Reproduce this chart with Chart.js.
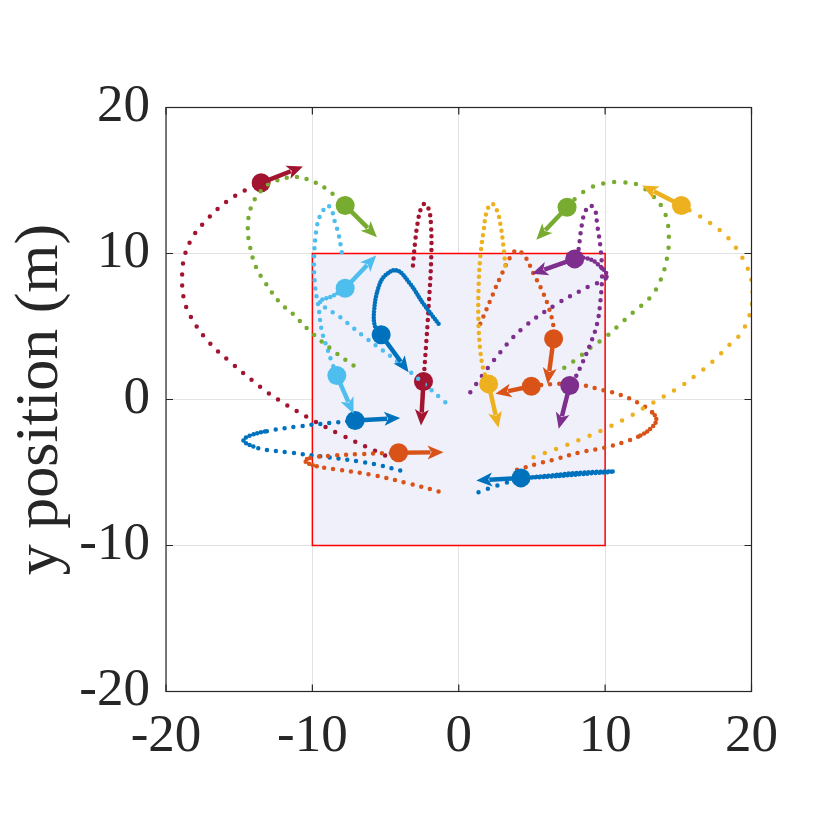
<!DOCTYPE html>
<html>
<head>
<meta charset="utf-8">
<script src="https://cdn.jsdelivr.net/npm/chart.js@4.4.1/dist/chart.umd.min.js"></script>
<style>
    html, body { margin: 0; padding: 0; background: #ffffff; }
</style>
</head>
<body>
<canvas id="chart" width="830" height="830"></canvas>
<script>
// Axis ticks and the square target region (x min, x max, y min, y max)
const xTicks = [-20, -10, 0, 10, 20];
const yTicks = [-20, -10, 0, 10, 20];
const region = [-10, 10, -10, 10];

// Agent trails: first point = start, last point = current position
const trailBlue1 = [[-1.38, 5.18], [-2.41, 6.55], [-3.32, 7.92], [-4.23, 8.84], [-5.03, 8.49], [-5.48, 7.69], [-5.78, 6.10], [-5.71, 4.95], [-5.30, 4.43]];
const trailBlue2 = [[-4.0, -4.86], [-5.37, -4.52], [-6.74, -4.25], [-9.01, -3.95], [-11.75, -3.61], [-13.11, -3.45], [-14.03, -3.22], [-14.71, -2.81], [-14.26, -2.47], [-13.11, -2.17], [-10.84, -1.83], [-8.22, -1.55], [-7.08, -1.44]];
const trailBlue3 = [[1.35, -6.35], [2.6, -5.9], [4.25, -5.45], [6.3, -5.2], [8.5, -5.0], [10.6, -4.93], [8.5, -5.1], [6.3, -5.28], [4.25, -5.37]];
const trailOrange1 = [[-1.38, -6.30], [-3.36, -5.77], [-5.71, -5.21], [-8.10, -4.82], [-9.70, -4.57], [-10.50, -4.22], [-10.15, -4.0], [-8.56, -3.84], [-6.74, -3.74], [-4.11, -3.65]];
const trailOrange2 = [[1.47, 5.18], [2.15, 6.78], [2.84, 8.38], [3.52, 9.75], [3.98, 10.21], [4.55, 9.75], [5.11, 8.61], [5.69, 7.47], [6.14, 6.32], [6.48, 4.95], [6.48, 4.16]];
const trailOrange3 = [[3.98, -4.82], [5.35, -4.41], [6.71, -4.06], [8.31, -3.61], [9.90, -3.31], [11.27, -2.92], [12.41, -2.47], [13.21, -1.89], [13.50, -1.39], [13.21, -0.87], [12.30, -0.25], [11.04, 0.32], [9.79, 0.66], [8.31, 1.0], [6.67, 1.07], [4.96, 0.91]];
const trailYellow1 = [[3.18, 9.18], [3.06, 10.43], [2.84, 12.03], [2.61, 12.95], [2.27, 13.40], [1.93, 12.95], [1.70, 11.58], [1.47, 9.75], [1.35, 7.47], [1.35, 5.18], [1.47, 3.36], [1.70, 1.99], [2.04, 1.07]];
const trailYellow2 = [[5.11, -3.95], [6.67, -3.38], [8.31, -2.74], [9.90, -2.05], [11.38, -1.32], [12.75, -0.52], [14.0, 0.21], [15.15, 0.89], [16.17, 1.64], [17.42, 2.67], [18.56, 3.81], [19.25, 4.50], [19.82, 5.64], [20.05, 6.78], [20.0, 8.15], [19.59, 9.29], [18.91, 10.43], [18.11, 11.35], [17.08, 12.15], [16.17, 12.72], [15.21, 13.29]];
const trailPurple1 = [[0.79, 0.5], [2.38, 2.67], [4.32, 4.84], [6.71, 6.55], [8.77, 7.69], [10.1, 8.4], [9.4, 9.35], [8.6, 9.7], [7.92, 9.63]];
const trailPurple2 = [[8.19, 10.3], [8.42, 12.03], [8.65, 12.9], [8.99, 13.29], [9.33, 12.9], [9.45, 12.03], [9.68, 10.43], [9.79, 8.61], [9.68, 6.78], [9.45, 5.18], [8.99, 3.81], [8.42, 2.45], [7.97, 1.53], [7.58, 0.96]];
const trailGreen1 = [[-7.19, 2.33], [-8.44, 3.24], [-10.09, 4.61], [-11.34, 5.87], [-12.25, 6.67], [-13.16, 7.92], [-13.85, 9.06], [-14.3, 10.66], [-14.41, 11.80], [-14.19, 13.17], [-13.5, 14.3], [-12.71, 14.89], [-11.34, 15.23], [-10.43, 15.11], [-9.06, 14.43], [-7.76, 13.29]];
const trailGreen2 = [[7.21, 2.17], [7.85, 2.62], [8.42, 3.06], [8.99, 3.54], [10.02, 4.27], [11.04, 5.18], [12.07, 6.10], [13.09, 7.01], [13.78, 8.15], [14.24, 9.75], [14.35, 10.89], [14.28, 12.03], [13.89, 13.17], [13.09, 14.09], [12.18, 14.73], [11.04, 14.88], [10.13, 14.84], [8.99, 14.5], [8.08, 13.86], [7.40, 13.17]];
const trailLightBlue1 = [[-0.92, -0.18], [-4.0, 2.45], [-6.28, 4.16], [-8.10, 5.64], [-9.47, 6.67], [-8.6, 7.1], [-7.76, 7.62]];
const trailLightBlue2 = [[-7.99, 10.09], [-8.22, 11.35], [-8.56, 12.49], [-8.67, 12.99], [-8.97, 13.29], [-9.24, 12.99], [-9.42, 12.72], [-9.70, 11.80], [-9.88, 9.75], [-9.81, 7.69], [-9.58, 6.32], [-9.36, 4.73], [-9.01, 3.58], [-8.67, 2.56], [-8.33, 1.64]];
const trailDarkRed1 = [[-5.03, -3.84], [-8.05, -2.42], [-10.34, -1.21], [-12.36, 0], [-13.52, 0.84], [-15.51, 2.49], [-17.11, 3.97], [-18.29, 5.64], [-18.75, 6.78], [-18.9, 8.15], [-18.75, 9.75], [-18.18, 11.12], [-17.26, 12.26], [-15.9, 13.52], [-14.53, 14.36], [-13.50, 14.84]];
const trailDarkRed2 = [[-3.13, 9.18], [-2.97, 10.89], [-2.82, 12.03], [-2.59, 13.06], [-2.34, 13.40], [-2.06, 13.06], [-1.90, 12.03], [-1.88, 9.75], [-2.06, 6.32], [-2.29, 2.90], [-2.41, 1.23]];

// Velocity arrow tips (data coordinates), one per agent
const tipBlue1 = [-3.43, 1.87];
const tipBlue2 = [-4.0, -1.26];
const tipBlue3 = [1.2, -5.55];
const tipOrange1 = [-1.04, -3.61];
const tipOrange2 = [6.07, 1.07];
const tipOrange3 = [2.50, 0.39];
const tipYellow1 = [2.72, -1.94];
const tipYellow2 = [12.53, 14.66];
const tipPurple1 = [5.0, 8.61];
const tipPurple2 = [6.83, -2.01];
const tipGreen1 = [-5.59, 11.12];
const tipGreen2 = [5.30, 10.94];
const tipLightBlue1 = [-5.64, 9.86];
const tipLightBlue2 = [-7.19, -0.98];
const tipDarkRed1 = [-10.65, 15.96];
const tipDarkRed2 = [-2.58, -1.78];

// MATLAB default colour order
const BLUE = '#0072BD';
const ORANGE = '#D95319';
const YELLOW = '#EDB120';
const PURPLE = '#7E2F8E';
const GREEN = '#77AC30';
const LIGHTBLUE = '#4DBEEE';
const DARKRED = '#A2142F';

const TEXT = '#262626';
const FONT = '"Liberation Serif", "Times New Roman", serif';

// gap = dot spacing in px; dense = [from, to] segment range drawn with tight dots
const agents = [
    { path: trailBlue1, tip: tipBlue1, color: BLUE, gap: 3 },
    { path: trailOrange1, tip: tipOrange1, color: ORANGE, gap: 9, dense: [4, 6] },
    { path: trailYellow1, tip: tipYellow1, color: YELLOW, gap: 7 },
    { path: trailPurple1, tip: tipPurple1, color: PURPLE, gap: 10, dense: [5, 8] },
    { path: trailGreen1, tip: tipGreen1, color: GREEN, gap: 10 },
    { path: trailLightBlue1, tip: tipLightBlue1, color: LIGHTBLUE, gap: 9, dense: [4, 6] },
    { path: trailDarkRed1, tip: tipDarkRed1, color: DARKRED, gap: 11 },
    { path: trailBlue2, tip: tipBlue2, color: BLUE, gap: 9, dense: [6, 9] },
    { path: trailOrange2, tip: tipOrange2, color: ORANGE, gap: 8 },
    { path: trailYellow2, tip: tipYellow2, color: YELLOW, gap: 12 },
    { path: trailPurple2, tip: tipPurple2, color: PURPLE, gap: 8 },
    { path: trailGreen2, tip: tipGreen2, color: GREEN, gap: 11 },
    { path: trailLightBlue2, tip: tipLightBlue2, color: LIGHTBLUE, gap: 8 },
    { path: trailDarkRed2, tip: tipDarkRed2, color: DARKRED, gap: 7 },
    { path: trailBlue3, tip: tipBlue3, color: BLUE, gap: 10, dense: [2, 8] },
    { path: trailOrange3, tip: tipOrange3, color: ORANGE, gap: 9, dense: [6, 9] }
];

function isDense(agent, i) {
    return agent.dense && i >= agent.dense[0] && i < agent.dense[1];
}

const datasets = agents.map(agent => {
    const last = agent.path.length - 1;
    return {
        data: agent.path.map(p => ({ x: p[0], y: p[1] })),
        showLine: true,
        tension: 0.4,
        borderColor: agent.color,
        borderWidth: 4.5,
        borderCapStyle: 'round',
        borderDash: [0, agent.gap],
        segment: {
            borderDash: ctx => isDense(agent, ctx.p0DataIndex) ? [0, 4] : [0, agent.gap]
        },
        pointRadius: ctx => ctx.dataIndex === last ? 9.5 : 0,
        pointBackgroundColor: agent.color,
        pointBorderWidth: 0,
        pointHoverRadius: 0
    };
});

// Light lavender square with red outline, placed through the scales
const regionPlugin = {
    id: 'region',
    beforeDatasetsDraw(chart) {
        const { ctx, scales: { x, y } } = chart;
        const left = x.getPixelForValue(region[0]);
        const right = x.getPixelForValue(region[1]);
        const bottom = y.getPixelForValue(region[2]);
        const top = y.getPixelForValue(region[3]);
        ctx.save();
        ctx.fillStyle = '#F0F0FA';
        ctx.fillRect(left, top, right - left, bottom - top);
        ctx.strokeStyle = '#FF0000';
        ctx.lineWidth = 1.5;
        ctx.strokeRect(left, top, right - left, bottom - top);
        ctx.restore();
    }
};

// Velocity arrows from each agent's current position
const arrowPlugin = {
    id: 'arrows',
    afterDatasetsDraw(chart) {
        const { ctx, scales: { x, y } } = chart;
        agents.forEach(agent => {
            const end = agent.path[agent.path.length - 1];
            const x0 = x.getPixelForValue(end[0]);
            const y0 = y.getPixelForValue(end[1]);
            const x1 = x.getPixelForValue(agent.tip[0]);
            const y1 = y.getPixelForValue(agent.tip[1]);
            const ang = Math.atan2(y1 - y0, x1 - x0);
            const head = 16, half = 7;
            const bx = x1 - head * Math.cos(ang);
            const by = y1 - head * Math.sin(ang);
            ctx.save();
            ctx.strokeStyle = agent.color;
            ctx.fillStyle = agent.color;
            ctx.lineWidth = 4.5;
            ctx.beginPath();
            ctx.moveTo(x0, y0);
            ctx.lineTo(bx + 3 * Math.cos(ang), by + 3 * Math.sin(ang));
            ctx.stroke();
            ctx.beginPath();
            ctx.moveTo(x1, y1);
            ctx.lineTo(bx - half * Math.sin(ang), by + half * Math.cos(ang));
            ctx.lineTo(bx + 4 * Math.cos(ang), by + 4 * Math.sin(ang));
            ctx.lineTo(bx + half * Math.sin(ang), by - half * Math.cos(ang));
            ctx.closePath();
            ctx.fill();
            ctx.restore();
        });
    }
};

// Box around the axes with inward tick marks
const framePlugin = {
    id: 'frame',
    afterDraw(chart) {
        const { ctx, chartArea: a, scales: { x, y } } = chart;
        const len = 7;
        ctx.save();
        ctx.strokeStyle = TEXT;
        ctx.lineWidth = 1.2;
        ctx.strokeRect(a.left, a.top, a.right - a.left, a.bottom - a.top);
        ctx.beginPath();
        xTicks.forEach(v => {
            const px = x.getPixelForValue(v);
            ctx.moveTo(px, a.bottom); ctx.lineTo(px, a.bottom - len);
            ctx.moveTo(px, a.top); ctx.lineTo(px, a.top + len);
        });
        yTicks.forEach(v => {
            const py = y.getPixelForValue(v);
            ctx.moveTo(a.left, py); ctx.lineTo(a.left + len, py);
            ctx.moveTo(a.right, py); ctx.lineTo(a.right - len, py);
        });
        ctx.stroke();
        ctx.restore();
    }
};

new Chart(document.getElementById('chart'), {
    type: 'scatter',
    data: { datasets: datasets },
    options: {
        responsive: false,
        animation: false,
        events: [],
        layout: { padding: { top: 107.5, right: 78.5, left: 0, bottom: 0 } },
        plugins: {
            legend: { display: false },
            tooltip: { enabled: false }
        },
        scales: {
            x: {
                type: 'linear',
                min: -20,
                max: 20,
                afterBuildTicks: scale => { scale.ticks = xTicks.map(v => ({ value: v })); },
                afterFit: scale => { scale.height = 138.5; },
                grid: { color: '#E3E3E3', lineWidth: 1, drawTicks: false },
                border: { display: false },
                ticks: {
                    color: TEXT,
                    padding: 14,
                    maxRotation: 0,
                    font: { family: FONT, size: 53, weight: 'normal' }
                }
            },
            y: {
                type: 'linear',
                min: -20,
                max: 20,
                afterBuildTicks: scale => { scale.ticks = yTicks.map(v => ({ value: v })); },
                afterFit: scale => { scale.width = 166; },
                grid: { color: '#E3E3E3', lineWidth: 1, drawTicks: false },
                border: { display: false },
                ticks: {
                    color: TEXT,
                    padding: 16,
                    font: { family: FONT, size: 53, weight: 'normal' }
                },
                title: {
                    display: true,
                    text: 'y position (m)',
                    color: TEXT,
                    padding: { top: 4, bottom: 0 },
                    font: { family: FONT, size: 62, weight: 'normal' }
                }
            }
        }
    },
    plugins: [regionPlugin, arrowPlugin, framePlugin]
});
</script>
</body>
</html>
